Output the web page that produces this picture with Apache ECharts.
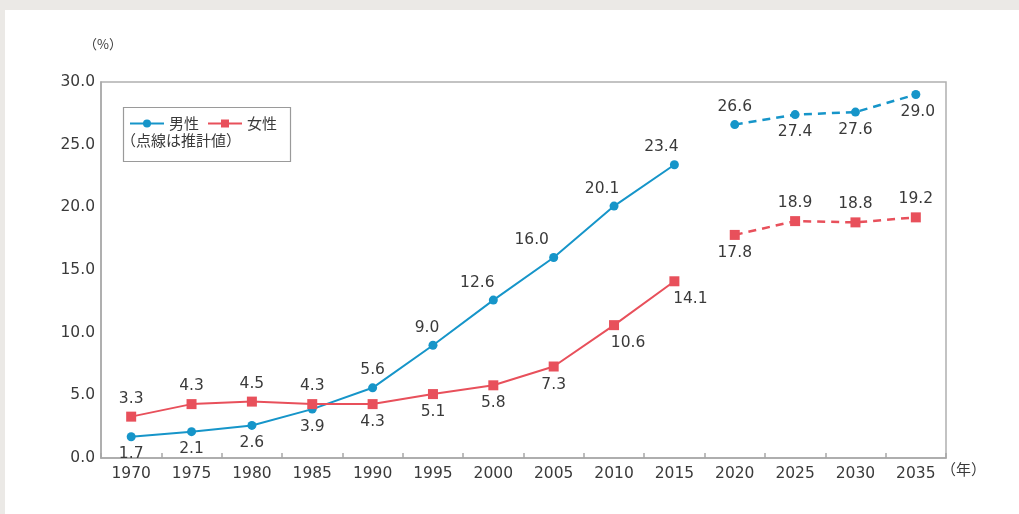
<!DOCTYPE html>
<html><head><meta charset="utf-8">
<script src="https://cdn.jsdelivr.net/npm/echarts@6/dist/echarts.min.js"></script>
<style>
html,body{margin:0;padding:0;background:#ebe9e6;}
#wrap{position:absolute;left:5px;top:10px;width:1014px;height:504px;background:#fff;}
#c{position:absolute;left:0;top:0;width:1019px;height:514px;}
</style></head>
<body><div id="wrap"></div><div id="c"></div>
<script>
const years = ['1970','1975','1980','1985','1990','1995','2000','2005','2010','2015','2020','2025','2030','2035'];
const maleActual = [1.7,2.1,2.6,3.9,5.6,9.0,12.6,16.0,20.1,23.4,null,null,null,null];
const maleEstimate = [null,null,null,null,null,null,null,null,null,null,26.6,27.4,27.6,29.0];
const femaleActual = [3.3,4.3,4.5,4.3,4.3,5.1,5.8,7.3,10.6,14.1,null,null,null,null];
const femaleEstimate = [null,null,null,null,null,null,null,null,null,null,17.8,18.9,18.8,19.2];
const yTicks = {min:0, max:30, interval:5};

// label placement (style only)
const malePos = ['bottom','bottom','bottom','bottom','top','top','top','top','top','top','top','bottom','bottom','bottom'];
const maleOff = [[0,0],[0,0],[0,0],[0,0],[0,0],[-6,0],[-16,0],[-22,0],[-12,0],[-13,0],[0,0],[0,0],[0,0],[2,0]];
const femPos = ['top','top','top','top','bottom','bottom','bottom','bottom','bottom','bottom','bottom','top','top','top'];
const femOff = [[0,0],[0,0],[0,0],[0,0],[0,0],[0,0],[0,0],[0,0],[14,0],[16,0],[0,0],[0,0],[0,0],[0,0]];

const BLUE = '#1695c9', RED = '#e8505b';
const FONT = 'DejaVu Sans, sans-serif';
function build(vals, pos, off){
  return vals.map((v,i)=> v==null ? null : {value:v, label:{position:pos[i], offset:off[i]}});
}
const labelStyle = {show:true, color:'#3a3a3a', fontSize:15.5, fontFamily:FONT, distance:5, formatter:p=>p.value.toFixed(1)};

const chart = echarts.init(document.getElementById('c'), null, {renderer:'canvas'});
chart.setOption({
  backgroundColor:'transparent',
  animation:false,
  textStyle:{fontFamily:FONT},
  grid:{left:101, right:73, top:82, bottom:56, show:true, borderColor:'#b0b0b0', borderWidth:1.5, backgroundColor:'transparent'},
  legend:{
    left:124, top:111, itemWidth:34, itemHeight:10, itemGap:8,
    data:['男性','女性'],
    textStyle:{fontSize:15, color:'#3a3a3a', fontFamily:'Noto Sans CJK JP'},
    selectedMode:false
  },
  graphic:[
    {type:'rect', left:121, top:105, shape:{width:167, height:54}, style:{fill:'none', stroke:'#9a9a9a', lineWidth:1.2}, z:10},
    {type:'text', left:121, top:133, style:{text:'（点線は推計値）', fill:'#3a3a3a', font:'15px "Noto Sans CJK JP"'}, z:10},
    {type:'text', left:84, top:38, style:{text:'（%）', fill:'#3a3a3a', font:'13px "Noto Sans CJK JP"'}},
    {type:'text', left:941, top:462, style:{text:'（年）', fill:'#3a3a3a', font:'15px "Noto Sans CJK JP"'}}
  ],
  xAxis:{
    type:'category', data:years, boundaryGap:true,
    axisLine:{lineStyle:{color:'#a8a8a8', width:1.5}},
    axisTick:{show:true, inside:true, length:5, lineStyle:{color:'#a8a8a8', width:1.5}},
    axisLabel:{color:'#3a3a3a', fontSize:15.5, fontFamily:FONT, margin:8}
  },
  yAxis:{
    type:'value', min:yTicks.min, max:yTicks.max, interval:yTicks.interval,
    splitLine:{show:false},
    axisLine:{show:true, lineStyle:{color:'#a8a8a8', width:1.5}},
    axisTick:{show:false},
    axisLabel:{color:'#3a3a3a', fontSize:15.5, fontFamily:FONT, margin:6, formatter:v=>v.toFixed(1)}
  },
  series:[
    {name:'男性', type:'line', data:build(maleActual,malePos,maleOff), symbol:'circle', symbolSize:9,
      itemStyle:{color:BLUE}, lineStyle:{color:BLUE, width:2}, label:labelStyle, connectNulls:false},
    {name:'女性', type:'line', data:build(femaleActual,femPos,femOff), symbol:'rect', symbolSize:10,
      itemStyle:{color:RED}, lineStyle:{color:RED, width:2}, label:labelStyle, connectNulls:false},
    {name:'男性', type:'line', data:build(maleEstimate,malePos,maleOff), symbol:'circle', symbolSize:9,
      itemStyle:{color:BLUE}, lineStyle:{color:BLUE, width:2.5, type:[8,6]}, label:labelStyle, connectNulls:false},
    {name:'女性', type:'line', data:build(femaleEstimate,femPos,femOff), symbol:'rect', symbolSize:10,
      itemStyle:{color:RED}, lineStyle:{color:RED, width:2.5, type:[8,6]}, label:labelStyle, connectNulls:false}
  ]
});
</script></body></html>
